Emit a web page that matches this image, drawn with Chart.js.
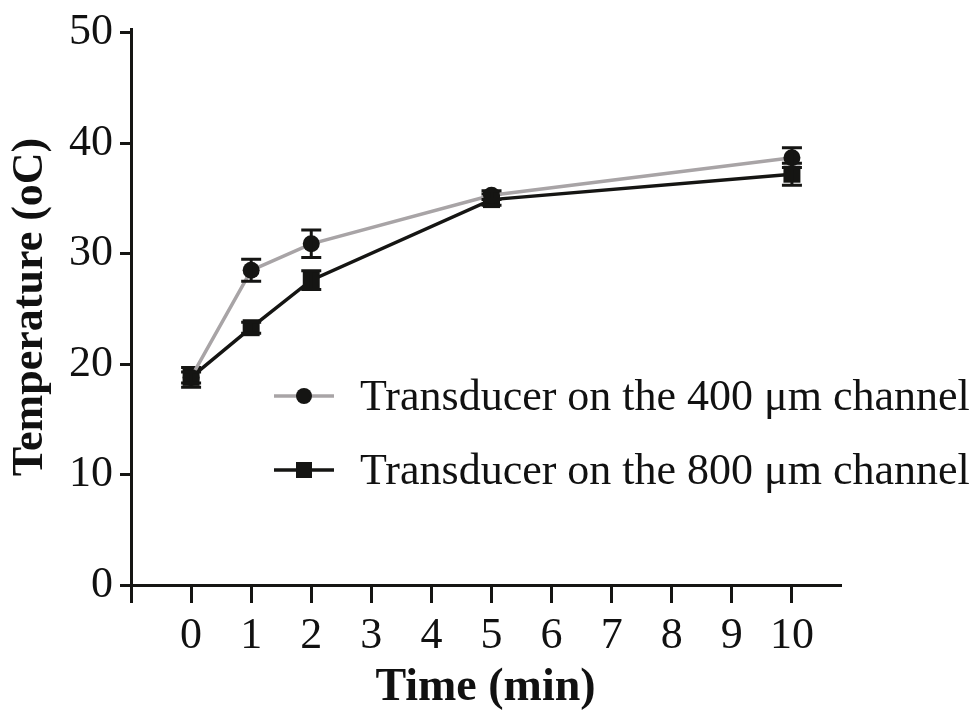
<!DOCTYPE html>
<html>
<head>
<meta charset="utf-8">
<script src="https://cdn.jsdelivr.net/npm/chart.js@4.4.0/dist/chart.umd.min.js"></script>
<style>
  html, body { margin: 0; padding: 0; background: #ffffff; }
  #wrap { width: 974px; height: 715px; }
</style>
</head>
<body>
<div id="wrap"><canvas id="c" width="974" height="715"></canvas></div>
<script>
// ---- data ----
const times = [0, 1, 2, 5, 10];
const temp400 = [18.8, 28.5, 30.9, 35.3, 38.7];
const err400 = [0.5, 1.0, 1.25, 0.4, 0.9];
const temp800 = [18.8, 23.3, 27.6, 34.9, 37.2];
const err800 = [0.9, 0.5, 0.85, 0.5, 1.0];
const xTickValues = [-1, 0, 1, 2, 3, 4, 5, 6, 7, 8, 9, 10];
const yTickValues = [0, 10, 20, 30, 40, 50];
const seriesLabels = ['Transducer on the 400 \u03bcm channel', 'Transducer on the 800 \u03bcm channel'];
const xTitle = 'Time (min)';
const yTitle = 'Temperature (oC)';

const SERIF = '"Liberation Serif", "Times New Roman", serif';
const GREY = '#a8a4a6';
const BLACK = '#151513';

function pts(xs, ys) { return xs.map((x, i) => ({ x: x, y: ys[i] })); }
const errs = [err400, err800];

const errorBars = {
  id: 'errorBars',
  afterDatasetDraw(chart, args) {
    const i = args.index;
    const ds = chart.data.datasets[i];
    const e = errs[i];
    const xs = chart.scales.x, ys = chart.scales.y;
    const ctx = chart.ctx;
    ctx.save();
    ctx.strokeStyle = BLACK;
    ctx.lineWidth = 3;
    ds.data.forEach((p, k) => {
      const px = xs.getPixelForValue(p.x);
      const top = ys.getPixelForValue(p.y + e[k]);
      const bot = ys.getPixelForValue(p.y - e[k]);
      ctx.beginPath();
      ctx.moveTo(px, top); ctx.lineTo(px, bot);
      ctx.moveTo(px - 10, top); ctx.lineTo(px + 10, top);
      ctx.moveTo(px - 10, bot); ctx.lineTo(px + 10, bot);
      ctx.stroke();
    });
    ctx.restore();
  }
};

const customLegend = {
  id: 'customLegend',
  afterDraw(chart) {
    const ctx = chart.ctx;
    const x0 = 274, x1 = 334, tx = 360;
    const rows = [396, 470];
    ctx.save();
    chart.data.datasets.forEach((ds, i) => {
      const y = rows[i];
      ctx.strokeStyle = ds.borderColor;
      ctx.lineWidth = 3.5;
      ctx.beginPath(); ctx.moveTo(x0, y); ctx.lineTo(x1, y); ctx.stroke();
      ctx.fillStyle = BLACK;
      const cx = (x0 + x1) / 2;
      if (ds.pointStyle === 'circle') {
        ctx.beginPath(); ctx.arc(cx, y, 8, 0, Math.PI * 2); ctx.fill();
      } else {
        ctx.fillRect(cx - 8, y - 8, 16, 16);
      }
      ctx.fillStyle = '#111';
      ctx.font = '44px ' + SERIF;
      ctx.textBaseline = 'middle';
      ctx.textAlign = 'left';
      ctx.fillText(ds.label, tx, y + 2);
    });
    ctx.restore();
  }
};

new Chart(document.getElementById('c'), {
  type: 'line',
  data: {
    datasets: [
      {
        label: seriesLabels[0],
        data: pts(times, temp400),
        borderColor: GREY,
        borderWidth: 3.5,
        pointStyle: 'circle',
        pointRadius: 8.5,
        pointBackgroundColor: BLACK,
        pointBorderWidth: 0,
        tension: 0,
        clip: false
      },
      {
        label: seriesLabels[1],
        data: pts(times, temp800),
        borderColor: BLACK,
        borderWidth: 3.5,
        pointStyle: 'rect',
        pointRadius: 12,
        pointBackgroundColor: BLACK,
        pointBorderWidth: 0,
        tension: 0,
        clip: false
      }
    ]
  },
  options: {
    responsive: false,
    animation: false,
    events: [],
    layout: { padding: { top: 22, right: 134, left: 0, bottom: 0 } },
    plugins: { legend: { display: false }, tooltip: { enabled: false } },
    scales: {
      x: {
        type: 'linear',
        min: -1,
        max: 10.8,
        afterBuildTicks(scale) { scale.ticks = xTickValues.map(v => ({ value: v })); },
        afterFit(scale) { scale.height = 130; },
        grid: { display: true, drawOnChartArea: false, drawTicks: true, tickLength: 18, color: BLACK, lineWidth: 3 },
        border: { display: true, color: BLACK, width: 3 },
        ticks: {
          color: '#111',
          font: { family: SERIF, size: 44, lineHeight: 1 },
          padding: 11,
          maxRotation: 0,
          autoSkip: false,
          callback: (v) => (v < 0 ? '' : String(v))
        },
        title: {
          display: true,
          text: xTitle,
          color: '#111',
          font: { family: SERIF, size: 46, weight: 'bold', lineHeight: 1 },
          padding: { top: 0, bottom: 4 }
        }
      },
      y: {
        type: 'linear',
        min: 0,
        max: 50.35,
        afterBuildTicks(scale) { scale.ticks = yTickValues.map(v => ({ value: v })); },
        afterFit(scale) { scale.width = 131; },
        grid: { display: true, drawOnChartArea: false, drawTicks: true, tickLength: 11, color: BLACK, lineWidth: 3 },
        border: { display: true, color: BLACK, width: 3 },
        ticks: {
          color: '#111',
          font: { family: SERIF, size: 44, lineHeight: 1 },
          padding: 7,
          autoSkip: false,
          callback: (v) => String(v)
        },
        title: {
          display: true,
          text: yTitle,
          color: '#111',
          font: { family: SERIF, size: 44, weight: 'bold', lineHeight: 1 },
          padding: { top: 9, bottom: 0 }
        }
      }
    }
  },
  plugins: [errorBars, customLegend]
});
</script>
</body>
</html>
